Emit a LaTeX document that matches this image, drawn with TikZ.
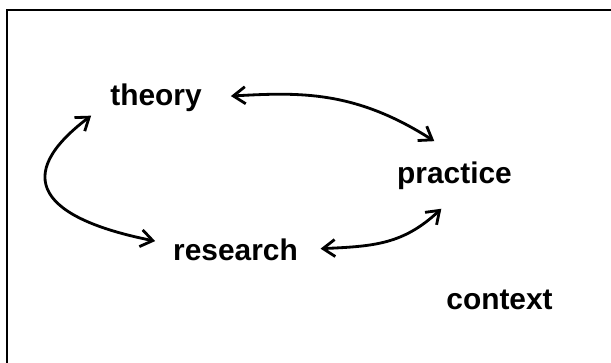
\documentclass[tikz,border=0pt]{standalone}
\usepackage{fontspec}
\setmainfont{Liberation Sans}
\usetikzlibrary{arrows.meta}
\begin{document}
\begin{tikzpicture}[font=\fontsize{17}{20}\selectfont\bfseries,>={Straight Barb[length=0.24cm,width=0.34cm]},line width=1.6pt]
\useasboundingbox (0,0) rectangle (12.22,-7.24);
\draw[line width=1.1pt] (0.14,-7.4) -- (0.14,-0.2) -- (12.4,-0.2);
\node[anchor=base] (t) at (3.12,-2.10) {theory};
\node[anchor=base] (p) at (9.09,-3.66) {practice};
\node[anchor=base] (r) at (4.71,-5.20) {research};
\node[anchor=base] (c) at (9.99,-6.18) {context};
\draw[<->,shorten <=0.44cm,shorten >=0.48cm] (t.east) .. controls +(1.8,0.1) and +(-2,1.28) .. (p.north);
\draw[<->,shorten <=0.3cm,shorten >=0.22cm] (t.190) .. controls +(-1.85,-1.4) and +(-2.5,0.5) .. (r.175);
\draw[<->,shorten <=0.31cm,shorten >=0.36cm] (r.east) .. controls +(1.4,0.06) and +(-1.02,-0.95) .. (p.south);
\end{tikzpicture}
\end{document}
